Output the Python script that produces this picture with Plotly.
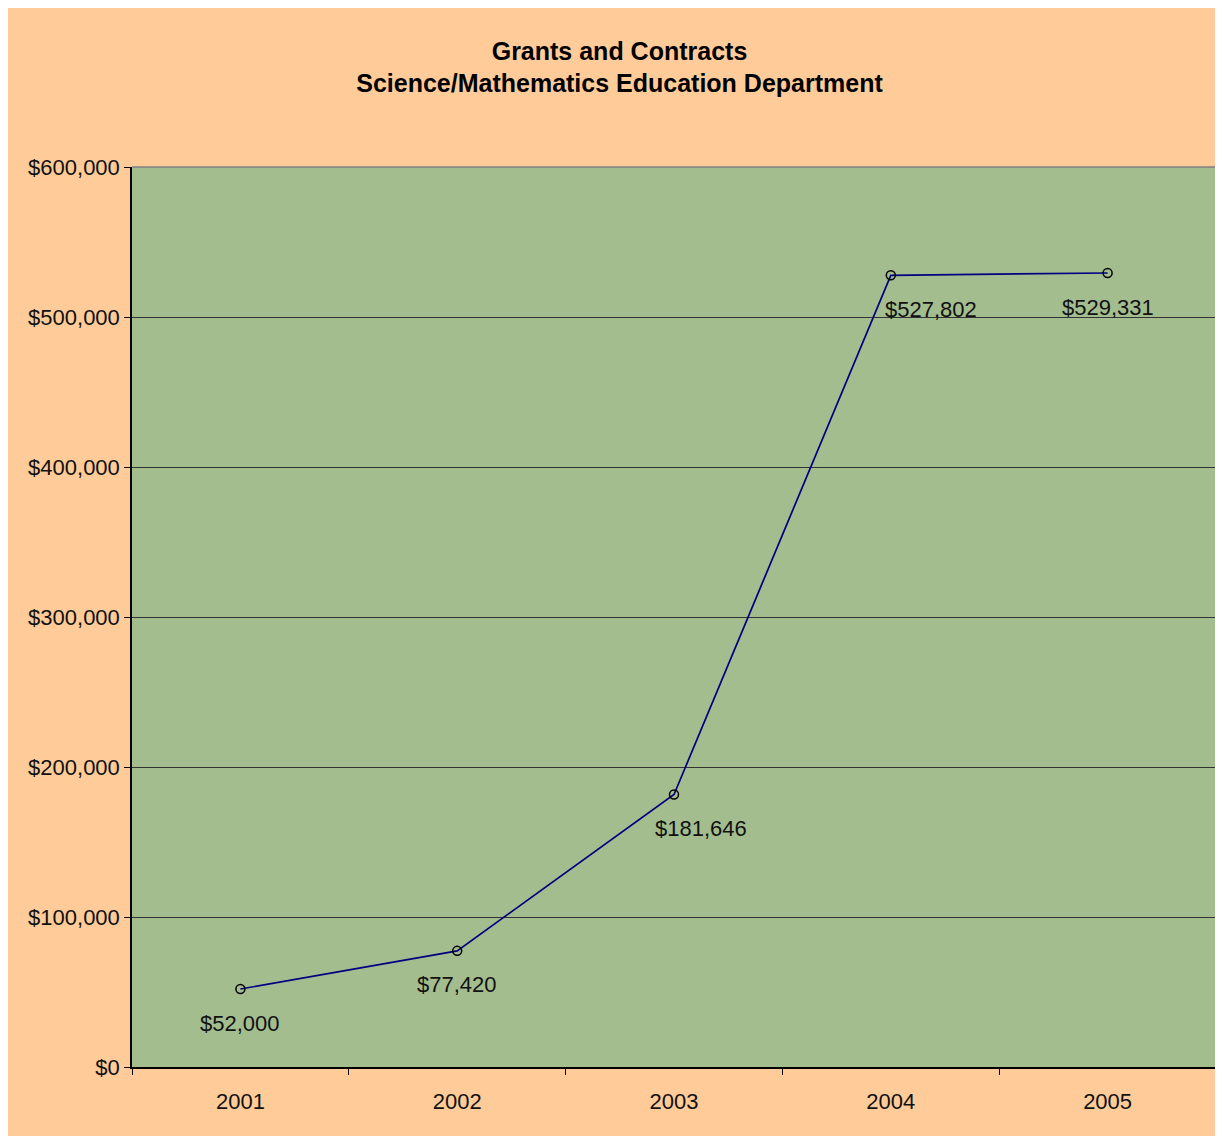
import plotly.graph_objects as go

years = ["2001", "2002", "2003", "2004", "2005"]
amounts = [52000, 77420, 181646, 527802, 529331]
labels = ["$52,000", "$77,420", "$181,646", "$527,802", "$529,331"]
y_ticks = [0, 100000, 200000, 300000, 400000, 500000, 600000]
y_tick_text = ["$0", "$100,000", "$200,000", "$300,000", "$400,000", "$500,000", "$600,000"]

FONT = "Liberation Sans, Arial, sans-serif"
label_xshift = [0, 0, 27, 40, 0]

fig = go.Figure()
fig.add_trace(go.Scatter(
    x=years, y=amounts, mode="lines+markers",
    line=dict(color="#000080", width=1.7),
    marker=dict(symbol="circle-open", size=9, color="black", line=dict(width=1.5, color="black")),
    showlegend=False, hoverinfo="skip",
))

for i, (val, lab) in enumerate(zip(amounts, labels)):
    fig.add_annotation(x=i, y=val, xref="x", yref="y", text=lab, showarrow=False,
                       xshift=label_xshift[i], yshift=-34,
                       font=dict(family=FONT, size=22, color="#111111"))

fig.update_layout(
    width=1223, height=1136,
    margin=dict(l=124, r=15, t=159, b=77),
    paper_bgcolor="#FFCC99",
    plot_bgcolor="#A3BD8F",
    title=dict(text="Grants and Contracts<br>Science/Mathematics Education Department",
               x=0.5, xanchor="center", y=0.9545, yanchor="top",
               font=dict(family=FONT, size=25, color="black", weight="bold")),
    font=dict(family=FONT, size=22, color="#111111"),
)
fig.update_xaxes(type="category", range=[-0.5, 4.5], tickson="boundaries",
                 ticks="outside", ticklen=6, tickcolor="black",
                 ticklabelstandoff=14,
                 showline=True, linecolor="black", linewidth=1.5,
                 showgrid=False, mirror=False,
                 tickfont=dict(family=FONT, size=22, color="#111111"))
fig.update_yaxes(range=[0, 600000], tickvals=y_ticks, ticktext=y_tick_text,
                 ticks="outside", ticklen=6, tickcolor="black",
                 showline=True, linecolor="black", linewidth=1.5,
                 showgrid=True, gridcolor="#333333", gridwidth=1,
                 zeroline=False,
                 tickfont=dict(family=FONT, size=22, color="#111111"))
fig.add_shape(type="line", xref="paper", yref="paper", x0=0, x1=1, y0=1, y1=1,
              line=dict(color="#808080", width=1.5))
fig.add_shape(type="line", xref="paper", yref="paper", x0=1, x1=1, y0=0, y1=1,
              line=dict(color="#808080", width=1.5))

fig.write_html("out.html")
